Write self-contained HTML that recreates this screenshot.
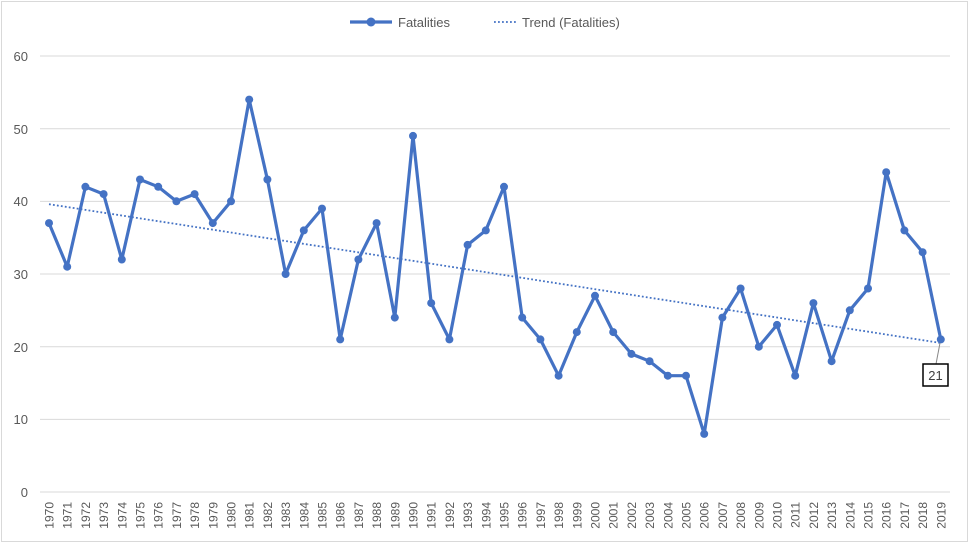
<!DOCTYPE html>
<html><head><meta charset="utf-8"><style>
html,body{margin:0;padding:0;background:#fff;}
svg text{font-family:"Liberation Sans",sans-serif;fill:#595959;}
</style></head><body>
<svg width="969" height="544" xmlns="http://www.w3.org/2000/svg">
<defs><marker id="m" markerWidth="10" markerHeight="10" refX="5" refY="5" markerUnits="userSpaceOnUse"><circle cx="5" cy="5" r="4" fill="#4472C4"/></marker></defs>
<rect x="1.5" y="1.5" width="966" height="540" fill="#fff" stroke="#d9d9d9"/>
<g stroke="#d9d9d9" stroke-width="1">
<line x1="40" y1="56" x2="950" y2="56"/><line x1="40" y1="128.7" x2="950" y2="128.7"/><line x1="40" y1="201.4" x2="950" y2="201.4"/><line x1="40" y1="274" x2="950" y2="274"/><line x1="40" y1="346.7" x2="950" y2="346.7"/><line x1="40" y1="419.4" x2="950" y2="419.4"/><line x1="40" y1="492" x2="950" y2="492"/>
</g>
<g font-size="13" text-anchor="end">
<text x="28" y="61">60</text><text x="28" y="134">50</text><text x="28" y="206">40</text><text x="28" y="279">30</text><text x="28" y="352">20</text><text x="28" y="424">10</text><text x="28" y="497">0</text>
</g>
<line x1="49" y1="204.2" x2="940.8" y2="343" stroke="#4472C4" stroke-width="1.8" stroke-dasharray="1.8 2.2"/>
<polyline fill="none" stroke="#4472C4" stroke-width="3.2" stroke-linejoin="round" marker-start="url(#m)" marker-mid="url(#m)" marker-end="url(#m)" points="49,223.1 67.2,266.7 85.4,186.8 103.6,194.1 121.8,259.5 140,179.5 158.2,186.8 176.4,201.3 194.6,194.1 212.8,223.1 231,201.3 249.2,99.6 267.4,179.5 285.6,274 303.8,230.4 322,208.6 340.2,339.4 358.4,259.5 376.6,223.1 394.8,317.6 413,135.9 431.2,303.1 449.4,339.4 467.6,244.9 485.8,230.4 504,186.8 522.2,317.6 540.4,339.4 558.6,375.7 576.8,332.1 595,295.8 613.2,332.1 631.4,353.9 649.6,361.2 667.8,375.7 686,375.7 704.2,433.9 722.4,317.6 740.6,288.5 758.8,346.7 777,324.9 795.2,375.7 813.4,303.1 831.6,361.2 849.8,310.3 868,288.5 886.2,172.2 904.4,230.4 922.6,252.2 940.8,339.4"/>
<line x1="940" y1="343" x2="936" y2="364" stroke="#888" stroke-width="1"/>
<rect x="923" y="364" width="25" height="22" fill="#fff" stroke="#000" stroke-width="1.5"/>
<text x="935.5" y="380" font-size="13" text-anchor="middle" style="fill:#404040">21</text>
<g font-size="12" text-anchor="end">
<text transform="translate(53.5,502) rotate(-90)">1970</text><text transform="translate(71.7,502) rotate(-90)">1971</text><text transform="translate(89.9,502) rotate(-90)">1972</text><text transform="translate(108.1,502) rotate(-90)">1973</text><text transform="translate(126.3,502) rotate(-90)">1974</text><text transform="translate(144.5,502) rotate(-90)">1975</text><text transform="translate(162.7,502) rotate(-90)">1976</text><text transform="translate(180.9,502) rotate(-90)">1977</text><text transform="translate(199.1,502) rotate(-90)">1978</text><text transform="translate(217.3,502) rotate(-90)">1979</text><text transform="translate(235.5,502) rotate(-90)">1980</text><text transform="translate(253.7,502) rotate(-90)">1981</text><text transform="translate(271.9,502) rotate(-90)">1982</text><text transform="translate(290.1,502) rotate(-90)">1983</text><text transform="translate(308.3,502) rotate(-90)">1984</text><text transform="translate(326.5,502) rotate(-90)">1985</text><text transform="translate(344.7,502) rotate(-90)">1986</text><text transform="translate(362.9,502) rotate(-90)">1987</text><text transform="translate(381.1,502) rotate(-90)">1988</text><text transform="translate(399.3,502) rotate(-90)">1989</text><text transform="translate(417.5,502) rotate(-90)">1990</text><text transform="translate(435.7,502) rotate(-90)">1991</text><text transform="translate(453.9,502) rotate(-90)">1992</text><text transform="translate(472.1,502) rotate(-90)">1993</text><text transform="translate(490.3,502) rotate(-90)">1994</text><text transform="translate(508.5,502) rotate(-90)">1995</text><text transform="translate(526.7,502) rotate(-90)">1996</text><text transform="translate(544.9,502) rotate(-90)">1997</text><text transform="translate(563.1,502) rotate(-90)">1998</text><text transform="translate(581.3,502) rotate(-90)">1999</text><text transform="translate(599.5,502) rotate(-90)">2000</text><text transform="translate(617.7,502) rotate(-90)">2001</text><text transform="translate(635.9,502) rotate(-90)">2002</text><text transform="translate(654.1,502) rotate(-90)">2003</text><text transform="translate(672.3,502) rotate(-90)">2004</text><text transform="translate(690.5,502) rotate(-90)">2005</text><text transform="translate(708.7,502) rotate(-90)">2006</text><text transform="translate(726.9,502) rotate(-90)">2007</text><text transform="translate(745.1,502) rotate(-90)">2008</text><text transform="translate(763.3,502) rotate(-90)">2009</text><text transform="translate(781.5,502) rotate(-90)">2010</text><text transform="translate(799.7,502) rotate(-90)">2011</text><text transform="translate(817.9,502) rotate(-90)">2012</text><text transform="translate(836.1,502) rotate(-90)">2013</text><text transform="translate(854.3,502) rotate(-90)">2014</text><text transform="translate(872.5,502) rotate(-90)">2015</text><text transform="translate(890.7,502) rotate(-90)">2016</text><text transform="translate(908.9,502) rotate(-90)">2017</text><text transform="translate(927.1,502) rotate(-90)">2018</text><text transform="translate(945.3,502) rotate(-90)">2019</text>
</g>
<line x1="350" y1="22" x2="392" y2="22" stroke="#4472C4" stroke-width="3.2"/>
<circle cx="371" cy="22" r="4.5" fill="#4472C4"/>
<text x="398" y="27" font-size="13">Fatalities</text>
<line x1="494" y1="22" x2="516" y2="22" stroke="#4472C4" stroke-width="1.8" stroke-dasharray="1.8 2.2"/>
<text x="522" y="27" font-size="13">Trend (Fatalities)</text>
</svg>
</body></html>
